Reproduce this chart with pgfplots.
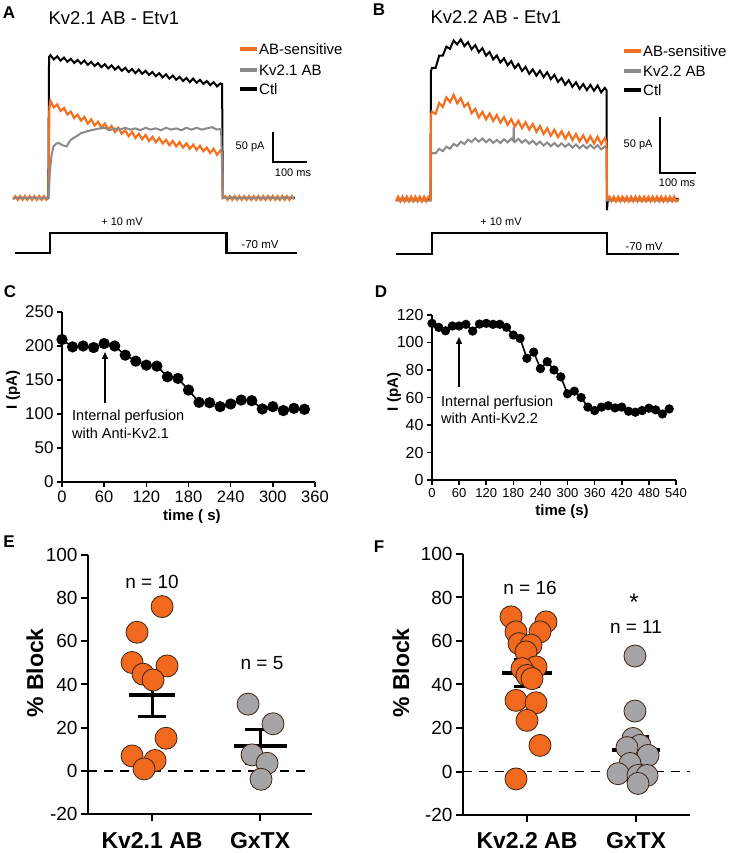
\documentclass[border=0pt]{standalone}
\usepackage{fontspec}
\setmainfont{Liberation Sans}
\usepackage{pgfplots}
\pgfplotsset{compat=1.18}
\usetikzlibrary{arrows.meta}

\definecolor{abor}{RGB}{243,112,33}
\definecolor{abgr}{RGB}{138,138,138}
\definecolor{dotor}{RGB}{240,105,30}
\definecolor{dotgr}{RGB}{165,165,168}
\definecolor{edge}{RGB}{60,35,20}
\newcommand{\fs}[1]{\fontsize{#1}{#1}\selectfont}

\pgfplotsset{
  trace/.style={scale only axis, anchor=south west, axis lines=none, clip=false, enlargelimits=false},
  panel/.style={scale only axis, anchor=south west, axis x line*=bottom, axis y line*=left,
    axis line style={line width=1.6pt}, tick style={line width=1.6pt, black}, tick align=outside,
    major tick length=5pt, clip=false, enlargelimits=false,
    /pgf/number format/assume math mode=true},
  dots/.style={only marks, mark=*, mark size=11pt, mark options={draw=edge, line width=0.8pt, fill=#1}},
}

\begin{document}
\begin{tikzpicture}[x=1pt,y=1pt]
\path[use as bounding box] (0,0) rectangle (728,853);

% ---------------- A: traces
\begin{axis}[trace, at={(13pt,595pt)}, width=285.6pt, height=210pt, xmin=0, xmax=840, ymin=-100, ymax=250]
\addplot[black, line width=2pt] coordinates {
(0,0)(104,0)(106,235)(110,238)(120,231)(130,236)(140,229)(150,234)(160,227)(170,232)(180,225)
(190,230)(200,224)(210,229)(220,222)(230,227)(240,220)(250,225)(260,218)(270,223)(280,216)
(290,221)(300,214)(310,219)(320,212)(330,217)(340,210)(350,215)(360,208)(370,214)(380,207)
(390,212)(400,205)(410,210)(420,203)(430,208)(440,201)(450,206)(460,199)(470,204)(480,197)
(490,202)(500,195)(510,200)(520,193)(530,199)(540,192)(550,197)(560,190)(570,195)(580,188)
(590,193)(600,186)(610,191)(615,190)(617,0)(829,0)};
\addplot[abor, line width=2.2pt] coordinates {
(0,-2)(7,3)(14,-3)(21,3)(28,-3)(35,3)(42,-3)(49,3)(56,-3)(63,3)(70,-3)(77,3)(84,-3)(91,3)(98,-3)(104,0)
(107,150)(110,162)(120,151)(130,156)(140,145)(150,150)(160,139)(170,144)(180,133)(190,139)(200,129)
(210,135)(220,124)(230,131)(240,121)(250,127)(260,117)(270,124)(280,114)(290,120)(300,110)
(310,117)(320,107)(330,113)(340,103)(350,110)(360,100)(370,107)(380,98)(390,105)(400,95)
(410,102)(420,93)(430,100)(440,91)(450,97)(460,88)(470,95)(480,86)(490,93)(500,84)
(510,91)(520,82)(530,89)(540,80)(550,87)(560,78)(570,84)(580,75)(590,82)(600,72)(610,79)(615,76)
(617,0)(624,3)(631,-3)(638,3)(645,-3)(652,3)(659,-3)(666,3)(673,-3)(680,3)(687,-3)(694,3)(701,-3)
(708,3)(715,-3)(722,3)(729,-3)(736,3)(743,-3)(750,3)(757,-3)(764,3)(771,-3)(778,3)(785,-3)(792,3)
(799,-3)(806,3)(813,-3)(820,3)(827,-2)};
\addplot[abgr, line width=2pt] coordinates {
(0,-1)(20,1)(40,-1)(60,1)(80,-1)(105,0)(108,40)(113,70)(119,86)(126,90)(133,92)(145,88)(158,86)
(168,96)(178,100)(187,103)(200,108)(217,111)(230,113)(256,116)(270,117)(285,113)(300,116)(315,114)
(330,117)(345,114)(360,116)(375,113)(390,117)(405,114)(420,116)(435,113)(450,117)(465,114)(480,116)
(495,113)(510,117)(525,114)(540,117)(555,114)(570,116)(585,118)(600,114)(612,115)(617,0)
(640,1)(660,-1)(680,1)(700,-1)(720,1)(740,-1)(760,1)(780,-1)(800,1)(827,0)};
\addplot[black, line width=2.6pt] coordinates {
(6,-91.7)(109,-91.7)(109,-58.3)(628,-58.3)(628,-91.7)(834,-91.7)};
\end{axis}

% ---------------- B: traces
\begin{axis}[trace, at={(396pt,592.4pt)}, width=288pt, height=229.6pt, xmin=0, xmax=800, ymin=-55, ymax=150]
\addplot[black, line width=2pt] coordinates {
(0,0)(96,0)(97,114)(100,117)(110,117)(120,128)(130,128)(140,136)(150,134)(160,141.5)(170,138)
(180,142.5)(190,136.5)(200,140)(210,133.7)(220,137.4)(230,131)(240,134.7)(250,128)(260,131.3)
(270,124.6)(280,128.1)(290,121.9)(300,125.6)(310,119.4)(320,123.1)(330,116.9)(340,120.6)
(350,114.3)(360,118)(370,111.7)(380,115.7)(390,110.1)(400,114.5)(410,108.8)(420,113.2)
(430,107)(440,110.8)(450,104.6)(460,108)(470,102)(480,106.1)(490,100.1)(500,104.2)(510,98.3)
(520,102.6)(530,97.2)(540,101.9)(550,96.6)(560,101.3)(570,95.2)(580,99.2)(585,97)(586,-10)
(588,-2)(600,0)(786,0)};
\addplot[abgr, line width=2pt] coordinates {
(0,-1.5)(96,-1.5)(97,39)(100,41)(110,40.8)(120,44.8)(130,42.7)(140,46.7)(150,44.9)(160,49.1)
(170,47.3)(180,51.1)(190,49)(200,53)(210,50.9)(220,54.2)(230,51.2)(240,54)(250,50.7)(260,53.4)
(270,50)(280,52.7)(290,50)(300,53.3)(310,50.6)(320,53.9)(326,52)(327,64)(328,52)(330,51)
(340,53.7)(350,50.3)(360,52.8)(370,49.4)(380,52)(390,48.6)(400,51.2)(410,47.8)(420,50.4)
(430,47.1)(440,49.9)(450,46.8)(460,49.7)(470,46.6)(480,49.3)(490,45.9)(500,48.6)(510,45.3)
(520,48.2)(530,45.2)(540,48.2)(550,45.2)(560,48)(570,44.3)(580,46.8)(585,45)(586,-1.5)(786,-1.5)};
\addplot[abor, line width=2.2pt] coordinates {
(0,-2)(6,2)(12,-2)(18,2)(24,-2)(30,2)(36,-2)(42,2)(48,-2)(54,2)(60,-2)(66,2)(72,-2)(78,2)(84,-2)(90,2)(96,0)
(97,75)(100,78)(110,76)(120,85.7)(130,82.3)(140,90.7)(150,86.5)(160,93)(170,85.4)(180,90)(190,82.4)
(200,85.6)(210,76.7)(220,80.5)(230,72.8)(240,77.7)(250,71)(260,76.3)(270,69.7)(280,75)(290,68.1)
(300,73.1)(310,66.2)(320,71.2)(330,64.5)(340,69.8)(350,63.2)(360,68.5)(370,61.9)(380,67)(390,60)
(400,65.1)(410,58.1)(420,63.1)(430,56.5)(440,61.8)(450,55.2)(460,60.5)(470,53.9)(480,59.3)
(490,52.6)(500,58)(510,51.4)(520,56.8)(530,50.4)(540,56)(550,49.6)(560,55.6)(570,48.9)(580,54.3)
(585,51)(586,0)(593,2)(599,-2)(605,2)(611,-2)(617,2)(623,-2)(629,2)(635,-2)(641,2)(647,-2)(653,2)
(659,-2)(665,2)(671,-2)(677,2)(683,-2)(689,2)(695,-2)(701,2)(707,-2)(713,2)(719,-2)(725,2)(731,-2)
(737,2)(743,-2)(749,2)(755,-2)(761,2)(767,-2)(773,2)(779,-2)(786,0)};
\addplot[black, line width=2.6pt] coordinates {
(0,-49)(100,-49)(100,-30.4)(586,-30.4)(586,-49)(786,-49)};
\end{axis}

% ---------------- C
\begin{axis}[panel, at={(62pt,371pt)}, width=253pt, height=170pt, xmin=0, xmax=360, ymin=0, ymax=250,
  xtick={0,60,...,360}, ytick={0,50,...,250},
  xticklabel style={font=\fs{16.5}}, yticklabel style={font=\fs{17}}]
\addplot[black, line width=1.6pt, mark=*, mark size=4.8pt] coordinates {
(0,209.5)(15,198.7)(30,200)(45,197.7)(60,203.6)(75,200)(90,186.5)(105,177.7)(120,171.8)(135,170.4)
(150,154.7)(165,152.3)(180,135.2)(195,117.1)(210,116.6)(225,110.8)(240,114.7)(255,120.5)(270,119.6)
(285,107.4)(300,110.8)(315,105)(330,108.3)(345,106.9)};
\end{axis}

% ---------------- D
\begin{axis}[panel, at={(432pt,373pt)}, width=244pt, height=165pt, xmin=0, xmax=540, ymin=0, ymax=120,
  xtick={0,60,...,540}, ytick={0,20,...,120},
  xticklabel style={font=\fs{13}}, yticklabel style={font=\fs{16}}]
\addplot[black, line width=1.6pt, mark=*, mark size=3.8pt] coordinates {
(0,113.9)(15,111)(30,108.5)(45,112)(60,112)(75,113.2)(90,108.3)(105,113.4)(120,113.9)(135,113.2)
(150,113.2)(165,111)(180,105.4)(195,103)(210,88.5)(225,93)(240,81)(255,86)(270,80)(285,75)
(300,62.7)(315,64.6)(330,60)(345,53)(360,50.5)(375,53)(390,54)(405,52.4)(420,53)(435,50)
(450,49.3)(465,50.5)(480,52.2)(495,51)(510,48)(525,51.7)};
\end{axis}

% ---------------- E
\begin{axis}[panel, at={(88pt,39pt)}, width=224pt, height=259pt, xmin=0.407, xmax=2.481, ymin=-20, ymax=100,
  axis line style={line width=2pt}, tick style={line width=2pt, black}, major tick length=7pt,
  xtick={1,2}, xticklabels={Kv2.1 AB, GxTX}, ytick={-20,0,...,100},
  xticklabel style={font=\fs{23}\bfseries, inner sep=0pt, yshift=-11pt}, yticklabel style={font=\fs{19}}]
\addplot[black, line width=1.6pt, dash pattern=on 9pt off 7pt] coordinates {(0.407,0)(2.481,0)};
\addplot[dots=dotor] coordinates {
(1.093,76.1)(0.861,64.2)(0.815,50.2)(1.139,48.6)(0.917,44.8)(1.009,42.1)(1.130,15.1)(0.815,6.9)(1.028,4.8)(0.926,0.9)};
\addplot[dots=dotgr] coordinates {(1.889,30.9)(2.120,21.8)(1.926,7.4)(2.065,3.5)(2.009,-3.9)};
\addplot[black, line width=4pt] coordinates {(0.787,35.3)(1.213,35.3)};
\addplot[black, line width=3pt] coordinates {(1,25.2)(1,45.5)};
\addplot[black, line width=3pt] coordinates {(0.87,45.5)(1.13,45.5)};
\addplot[black, line width=3pt] coordinates {(0.87,25.2)(1.13,25.2)};
\addplot[black, line width=4pt] coordinates {(1.755,11.5)(2.245,11.5)};
\addplot[black, line width=3pt] coordinates {(2,3.5)(2,19.3)};
\addplot[black, line width=3pt] coordinates {(1.86,19.3)(2.14,19.3)};
\addplot[black, line width=3pt] coordinates {(1.86,3.5)(2.14,3.5)};
\end{axis}

% ---------------- F
\begin{axis}[panel, at={(463pt,38pt)}, width=227pt, height=261pt, xmin=0.413, xmax=2.495, ymin=-20, ymax=100,
  axis line style={line width=2pt}, tick style={line width=2pt, black}, major tick length=7pt,
  xtick={1,2}, xticklabels={Kv2.2 AB, GxTX}, ytick={-20,0,...,100},
  xticklabel style={font=\fs{23}\bfseries, inner sep=0pt, yshift=-10pt}, yticklabel style={font=\fs{19}}]
\addplot[black, line width=1.6pt, dash pattern=on 9pt off 7pt] coordinates {(0.413,0)(2.495,0)};
\addplot[dots=dotor] coordinates {
(0.853,71.1)(1.174,68.8)(0.899,64.2)(1.119,64.2)(0.927,58.8)(1.037,58.1)(0.991,55.0)(1.083,48.1)
(0.954,47.3)(1.0,44.2)(1.046,42.7)(0.899,32.7)(1.083,31.6)(1.0,23.5)(1.119,12.0)(0.899,-3.4)};
\addplot[dots=dotgr] coordinates {
(1.99,53.1)(1.99,27.8)(1.972,15.2)(2.037,12)(1.917,11)(2.11,7.4)(1.945,3.7)(1.835,-1)(2.018,-1.8)(2.101,-1.8)(2.018,-5.5)};
\addplot[black, line width=4pt] coordinates {(0.77,45.2)(1.23,45.2)};
\addplot[black, line width=3pt] coordinates {(1,38.9)(1,51.5)};
\addplot[black, line width=3pt] coordinates {(0.885,51.5)(1.115,51.5)};
\addplot[black, line width=3pt] coordinates {(0.885,38.9)(1.115,38.9)};
\addplot[black, line width=4pt] coordinates {(1.784,10)(2.216,10)};
\addplot[black, line width=3pt] coordinates {(2,3.8)(2,16.3)};
\addplot[black, line width=3pt] coordinates {(1.88,16.3)(2.12,16.3)};
\addplot[black, line width=3pt] coordinates {(1.88,3.8)(2.12,3.8)};
\end{axis}

% ---------------- annotations
\node[font=\fs{17}\bfseries] at (9,840) {A};
\node[anchor=west, font=\fs{18.5}] at (45,835) {Kv2.1 AB - Etv1};
\node[font=\fs{17}\bfseries] at (379,843) {B};
\node[anchor=west, font=\fs{18.5}] at (427,836) {Kv2.2 AB - Etv1};

\foreach \yy/\cc/\tt in {804/abor/AB-sensitive, 783/abgr/Kv2.1 AB, 764/black/Ctl}{
  \draw[\cc, line width=4pt] (240,\yy) -- (257,\yy);
  \node[anchor=west, inner sep=1pt, font=\fs{15}] at (258,\yy) {\tt};}
\foreach \yy/\cc/\tt in {802/abor/AB-sensitive, 782/abgr/Kv2.2 AB, 763/black/Ctl}{
  \draw[\cc, line width=4pt] (624,\yy) -- (641,\yy);
  \node[anchor=west, inner sep=1pt, font=\fs{15}] at (642,\yy) {\tt};}

\draw[line width=2.4pt] (273,721) -- (273,691) -- (307,691);
\node[anchor=east, font=\fs{11}] at (268,706) {50 pA};
\node[font=\fs{11}] at (293,680) {100 ms};
\draw[line width=2.4pt] (660,736) -- (660,680) -- (696,680);
\node[anchor=east, font=\fs{11}] at (656,708) {50 pA};
\node[font=\fs{11}] at (677,670) {100 ms};

\node[font=\fs{11}] at (122,631) {+ 10 mV};
\node[font=\fs{11.5}] at (260,608) {-70 mV};
\node[font=\fs{11}] at (501,631) {+ 10 mV};
\node[font=\fs{11.5}] at (644,606) {-70 mV};

\node[font=\fs{17}\bfseries] at (10,561) {C};
\node[rotate=90, font=\fs{15}\bfseries] at (13,463) {I (pA)};
\node[font=\fs{15}\bfseries] at (192,336) {time ( s)};
\draw[-{Triangle[length=7pt,width=6pt]}, line width=1.6pt] (105,450) -- (105,501);
\node[anchor=west, font=\fs{14.5}, inner sep=0pt] at (72,436) {Internal perfusion};
\node[anchor=west, font=\fs{14.5}, inner sep=0pt] at (72,420) {with Anti-Kv2.1};

\node[font=\fs{17}\bfseries] at (381,561) {D};
\node[rotate=90, font=\fs{15}\bfseries] at (394,461) {I (pA)};
\node[font=\fs{15}\bfseries] at (562,341) {time (s)};
\draw[-{Triangle[length=7pt,width=6pt]}, line width=1.6pt] (459,466) -- (459,516);
\node[anchor=west, font=\fs{14.5}, inner sep=0pt] at (441,450) {Internal perfusion};
\node[anchor=west, font=\fs{14.5}, inner sep=0pt] at (441,435) {with Anti-Kv2.2};

\node[font=\fs{17}\bfseries] at (9,311) {E};
\node[rotate=90, font=\fs{23}\bfseries] at (35,180) {\% Block};
\node[font=\fs{19}] at (152,271) {n = 10};
\node[font=\fs{19}] at (262,190) {n = 5};

\node[font=\fs{17}\bfseries] at (379,306) {F};
\node[rotate=90, font=\fs{23}\bfseries] at (401,180) {\% Block};
\node[font=\fs{19}] at (530,265) {n = 16};
\node[font=\fs{24}, inner sep=0pt] at (634,251) {*};
\node[font=\fs{19}] at (636,226) {n = 11};
\end{tikzpicture}
\end{document}
